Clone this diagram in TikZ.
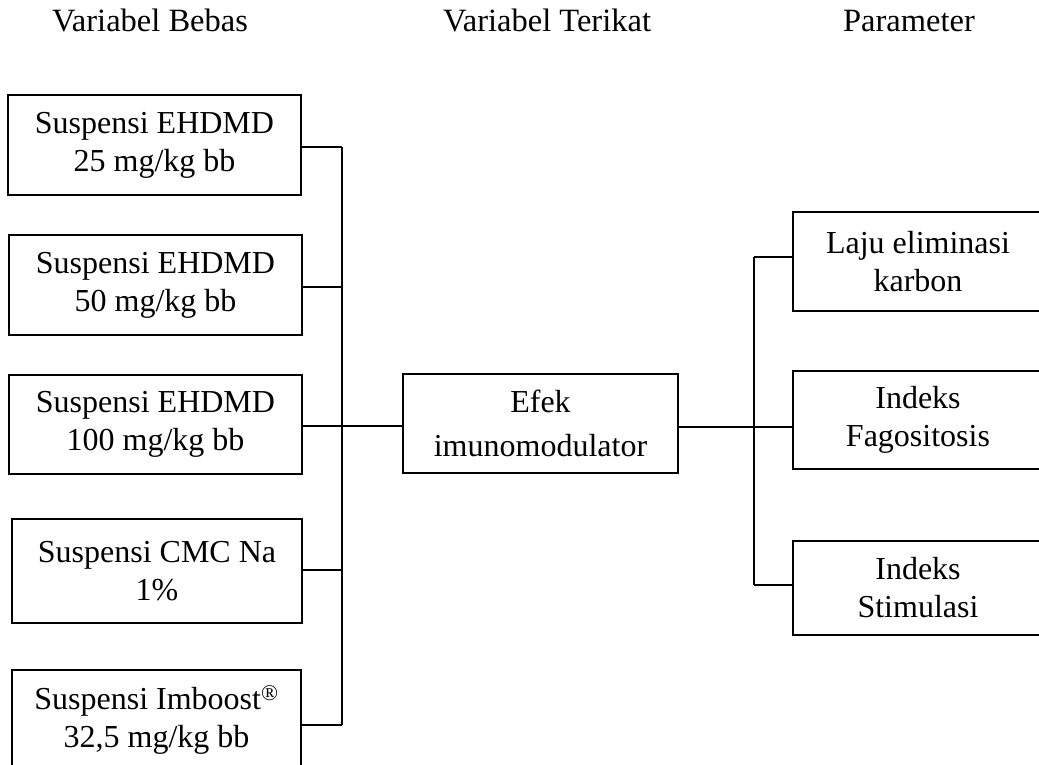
\documentclass[tikz,border=0pt]{standalone}
\usepackage{fontspec}
\setmainfont{Liberation Serif}
\begin{document}
\begin{tikzpicture}[x=1pt,y=-1pt,
  box/.style={draw,line width=1.6pt,align=center,inner sep=0pt,
    font=\fontsize{32}{38}\selectfont},
  head/.style={inner sep=0pt,anchor=base,font=\fontsize{32.5}{38}\selectfont},
  conn/.style={line width=1.6pt}]
\useasboundingbox (0,0) rectangle (1039,765);
\clip (0,0) rectangle (1039,765);
% headers
\node[head] (h1) at (150,32) {Variabel Bebas};
\node[head] (h2) at (547,32) {Variabel Terikat};
\node[head] (h3) at (909,32) {Parameter};
% left boxes
\node[box,minimum width=293pt,minimum height=100pt] (L1) at (154.5,145) {Suspensi EHDMD\\25 mg/kg bb};
\node[box,minimum width=293pt,minimum height=100pt] (L2) at (155.5,285) {Suspensi EHDMD\\50 mg/kg bb};
\node[box,minimum width=293pt,minimum height=99pt] (L3) at (155.5,424.5) {Suspensi EHDMD\\100 mg/kg bb};
\node[box,minimum width=290pt,minimum height=104pt] (L4) at (157,571) {Suspensi CMC Na\\1\%};
\node[box,minimum width=289pt,minimum height=100pt] (L5) at (156.5,720) {Suspensi Imboost\textsuperscript{\textregistered}\\32,5 mg/kg bb};
% middle box
\node[box,minimum width=275pt,minimum height=99pt,font=\fontsize{32}{44}\selectfont] (M) at (540.5,423.5) {Efek\\imunomodulator};
% right boxes
\node[box,minimum width=250pt,minimum height=99pt] (R1) at (918,261.5) {Laju eliminasi\\karbon};
\node[box,minimum width=250pt,minimum height=98pt] (R2) at (918,420) {Indeks\\Fagositosis};
\node[box,minimum width=250pt,minimum height=94pt] (R3) at (918,588) {Indeks\\Stimulasi};
% junctions
\coordinate (a1) at (342,147);
\coordinate (a2) at (342,287);
\coordinate (a3) at (342,426);
\coordinate (a4) at (342,570);
\coordinate (a5) at (342,725);
\coordinate (b1) at (754,257);
\coordinate (b2) at (754,427);
\coordinate (b3) at (754,585);
% left connectors
\draw[conn] (L1.east |- a1) -- (a1);
\draw[conn] (L2.east |- a2) -- (a2);
\draw[conn] (L3.east |- a3) -- (a3);
\draw[conn] (L4.east |- a4) -- (a4);
\draw[conn] (L5.east |- a5) -- (a5);
\draw[conn] (a1) -- (a5);
\draw[conn] (a3) -- (M.west |- a3);
% right connectors
\draw[conn] (M.east |- b2) -- (R2.west |- b2);
\draw[conn] (b1) -- (b3);
\draw[conn] (b1) -- (R1.west |- b1);
\draw[conn] (b3) -- (R3.west |- b3);
\end{tikzpicture}
\end{document}
